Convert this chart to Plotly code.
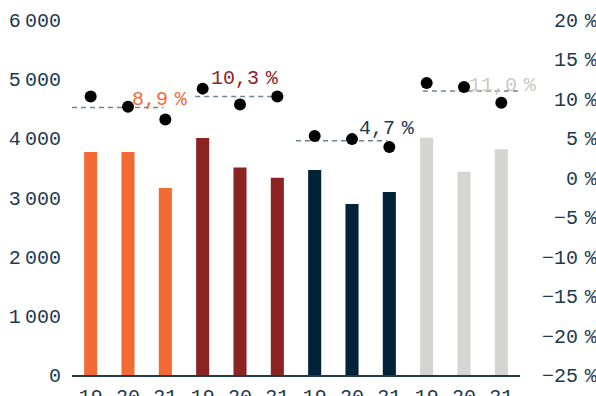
import plotly.graph_objects as go

# Data: four groups of three years each
years = ["19", "20", "21"] * 4
volumes = [3770, 3770, 3160, 4005, 3505, 3335, 3465, 2890, 3095, 4010, 3435, 3815]
margins_pct = [10.3, 9.0, 7.4, 11.3, 9.3, 10.3, 5.3, 4.9, 3.9, 12.0, 11.5, 9.5]
group_avg_pct = [8.9, 10.3, 4.7, 11.0]
group_colors = ["#F36A35", "#8C2322", "#00233A", "#D5D4D0"]
label_colors = ["#F36A35", "#8E2424", "#1D3A4F", "#C9C9C5"]

left_ticks = [0, 1000, 2000, 3000, 4000, 5000, 6000]
right_ticks = [-25, -20, -15, -10, -5, 0, 5, 10, 15, 20]

# Layout helpers (not data)
line_spans = [(-0.5, 1.95), (2.8, 5.0), (5.5, 7.95), (8.9, 11.5)]
label_pos = [(1.85, 9.95), (4.13, 12.61), (7.93, 6.3), (11.05, 11.76)]

TXT = "#1D3A4F"
FONT = "Liberation Mono"
FS = 20
NARROW = "<span style='font-size:7px'> </span>"
PCT_GAP = "<span style='font-size:11px'> </span>"
PAD = "\u00a0"

x = list(range(len(volumes)))
bar_colors = [group_colors[i // 3] for i in x]


def fmt_thousands(v):
    return f"{v:,}".replace(",", NARROW)


def fmt_pct(v, width=3):
    s = ("\u2212" if v < 0 else "") + str(abs(v))
    return PAD * (width - len(s)) + s + PCT_GAP + "%"


fig = go.Figure()
fig.add_trace(go.Bar(x=x, y=volumes, marker=dict(color=bar_colors, line=dict(width=0)),
                     width=0.35, yaxis="y", showlegend=False))

for g, avg in enumerate(group_avg_pct):
    x0, x1 = line_spans[g]
    fig.add_trace(go.Scatter(x=[x0, x1], y=[avg, avg], mode="lines", yaxis="y2",
                             line=dict(color="#6F8595", width=1.6, dash="5px,4px"),
                             showlegend=False, hoverinfo="skip"))
    lx, ly = label_pos[g]
    fig.add_annotation(x=lx, y=ly, xref="x", yref="y2", showarrow=False,
                       text=f"{avg:.1f}".replace(".", ",") + PCT_GAP + "%",
                       font=dict(family=FONT, size=FS, color=label_colors[g]))

fig.add_trace(go.Scatter(x=x, y=margins_pct, mode="markers", yaxis="y2",
                         marker=dict(color="black", size=12), showlegend=False))

fig.update_layout(
    width=596, height=396,
    margin=dict(l=72, r=76, t=20, b=21),
    paper_bgcolor="white", plot_bgcolor="white",
    bargap=0.65,
    font=dict(family=FONT, size=FS, color=TXT),
    xaxis=dict(range=[-0.5, 11.5], tickmode="array", tickvals=x, ticktext=years,
               showgrid=False, zeroline=False, showline=True, linecolor=TXT,
               linewidth=1.5, ticks="", ticklabelstandoff=2, automargin=False,
               tickfont=dict(family=FONT, size=FS, color=TXT)),
    yaxis=dict(range=[0, 6000], tickmode="array", tickvals=left_ticks,
               ticktext=[fmt_thousands(v) for v in left_ticks],
               showgrid=False, zeroline=False, showline=False, ticks="",
               ticklabelstandoff=10, automargin=False,
               tickfont=dict(family=FONT, size=FS, color=TXT)),
    yaxis2=dict(range=[-25, 20], overlaying="y", side="right", tickmode="array",
                tickvals=right_ticks, ticktext=[fmt_pct(v) for v in right_ticks],
                showgrid=False, zeroline=False, showline=False, ticks="",
                ticklabelstandoff=21, automargin=False,
                tickfont=dict(family=FONT, size=FS, color=TXT)),
)

fig.write_html("out.html")
